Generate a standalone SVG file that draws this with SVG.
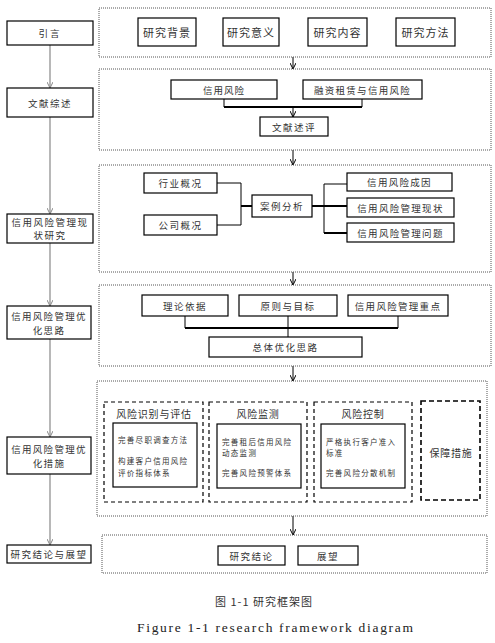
<svg xmlns="http://www.w3.org/2000/svg" width="495" height="643" viewBox="0 0 495 643">
<style>
.bg{fill:#fff}
.box{fill:#fff;stroke:#000;stroke-width:1.2}
.outer{fill:none;stroke:#555;stroke-width:1;stroke-dasharray:1 1}
.dash{fill:none;stroke:#000;stroke-width:1.2;stroke-dasharray:4 3}
.dash2{fill:none;stroke:#000;stroke-width:1.6;stroke-dasharray:5 3}
.t{font-family:"Noto Sans CJK SC","Noto Sans",sans-serif;fill:#333;text-anchor:middle;dominant-baseline:central}
.l{font-family:"Noto Sans CJK SC","Noto Sans",sans-serif;fill:#333;font-size:7.5px;letter-spacing:1.3px}
.s{fill:none;stroke:#888;stroke-width:1.2}
.c{fill:none;stroke:#000;stroke-width:1}
.k{fill:none;stroke:#000;stroke-width:2}
</style>
<defs>
<marker id="ag" viewBox="0 0 6 6" refX="6" refY="3" markerWidth="6" markerHeight="6" markerUnits="userSpaceOnUse" orient="auto">
<path d="M0,0 L6,3 L0,6" fill="none" stroke="#888" stroke-width="1"/>
</marker>
<marker id="ab" viewBox="0 0 6 6" refX="6" refY="3" markerWidth="6" markerHeight="6" markerUnits="userSpaceOnUse" orient="auto">
<path d="M0,0 L6,3 L0,6" fill="none" stroke="#000" stroke-width="1"/>
</marker>
</defs>
<rect class="bg" x="0" y="0" width="495" height="643"/>

<g id="connectors">
<path class="s" d="M50,45 V88" marker-end="url(#ag)"/>
<path class="s" d="M50,117 V214" marker-end="url(#ag)"/>
<path class="s" d="M50,243 V306" marker-end="url(#ag)"/>
<path class="s" d="M50,339 V437" marker-end="url(#ag)"/>
<path class="s" d="M50,474 V545" marker-end="url(#ag)"/>
<path class="c" d="M293,57 V69" marker-end="url(#ab)"/>
<path class="c" d="M293,150 V165" marker-end="url(#ab)"/>
<path class="c" d="M293,272 V285" marker-end="url(#ab)"/>
<path class="c" d="M293,366 V381" marker-end="url(#ab)"/>
<path class="c" d="M293,516 V535" marker-end="url(#ab)"/>
<path class="c" d="M224,99 V107 M362,99 V107"/>
<path class="k" d="M224,107 H362"/>
<path class="c" d="M293,107 V117" marker-end="url(#ab)"/>
<path class="c" d="M217,183 H241 V225 H217"/>
<path class="k" d="M241,206 H252"/>
<path class="k" d="M312,206 H347"/>
<path class="c" d="M347,184 H324 V233"/>
<path class="k" d="M324,233 H347"/>
<path class="c" d="M185,316 V328 M398,316 V328 M288,316 V337"/>
<path class="k" d="M185,328 H398"/>
</g>

<g id="n-intro"><rect class="box" x="7" y="21" width="86" height="24"/><text class="t" x="50" y="33" font-size="9.5" letter-spacing="2">引言</text></g>
<g id="n-lit"><rect class="box" x="7" y="88" width="86" height="29"/><text class="t" x="50" y="102.5" font-size="9.5" letter-spacing="1.5">文献综述</text></g>
<g id="n-status"><rect class="box" x="7" y="214" width="86" height="29"/><text class="t" x="50" y="222" font-size="9.5" letter-spacing="1.5">信用风险管理现</text><text class="t" x="50" y="235" font-size="9.5" letter-spacing="1.5">状研究</text></g>
<g id="n-idea"><rect class="box" x="7" y="306" width="84" height="33"/><text class="t" x="49" y="316" font-size="9.5" letter-spacing="1.3">信用风险管理优</text><text class="t" x="49" y="330" font-size="9.5" letter-spacing="1.3">化思路</text></g>
<g id="n-measure"><rect class="box" x="7" y="437" width="84" height="37"/><text class="t" x="49" y="449" font-size="9.5" letter-spacing="1.3">信用风险管理优</text><text class="t" x="49" y="463" font-size="9.5" letter-spacing="1.3">化措施</text></g>
<g id="n-concl"><rect class="box" x="7" y="545" width="84" height="18"/><text class="t" x="49" y="554" font-size="9.5" letter-spacing="1.5">研究结论与展望</text></g>

<g id="g1">
<rect class="outer" x="99" y="8" width="392" height="49"/>
<rect class="box" x="138" y="18" width="58" height="28"/><text class="t" x="167" y="32" font-size="11" letter-spacing="1">研究背景</text>
<rect class="box" x="223" y="18" width="56" height="28"/><text class="t" x="251" y="32" font-size="11" letter-spacing="1">研究意义</text>
<rect class="box" x="308" y="18" width="59" height="28"/><text class="t" x="337.5" y="32" font-size="11" letter-spacing="1">研究内容</text>
<rect class="box" x="396" y="18" width="59" height="28"/><text class="t" x="425.5" y="32" font-size="11" letter-spacing="1">研究方法</text>
</g>

<g id="g2">
<rect class="outer" x="99" y="69" width="392" height="81"/>
<rect class="box" x="171" y="80" width="106" height="19"/><text class="t" x="224" y="89.5" font-size="9.5" letter-spacing="1">信用风险</text>
<rect class="box" x="303" y="80" width="119" height="19"/><text class="t" x="362.5" y="89.5" font-size="9.5" letter-spacing="1.3">融资租赁与信用风险</text>
<rect class="box" x="260" y="117" width="68" height="19"/><text class="t" x="294" y="126.5" font-size="9.5" letter-spacing="1.5">文献述评</text>
</g>

<g id="g3">
<rect class="outer" x="99" y="165" width="392" height="107"/>
<rect class="box" x="144" y="173" width="73" height="20"/><text class="t" x="180.5" y="183" font-size="9.5" letter-spacing="1.5">行业概况</text>
<rect class="box" x="144" y="215" width="73" height="20"/><text class="t" x="180.5" y="225" font-size="9.5" letter-spacing="1.5">公司概况</text>
<rect class="box" x="252" y="195" width="60" height="22"/><text class="t" x="282" y="206" font-size="9.5" letter-spacing="1.5">案例分析</text>
<rect class="box" x="347" y="173" width="105" height="18"/><text class="t" x="399.5" y="182" font-size="9.5" letter-spacing="1.3">信用风险成因</text>
<rect class="box" x="347" y="198" width="107" height="19"/><text class="t" x="400.5" y="207.5" font-size="9.5" letter-spacing="1.3">信用风险管理现状</text>
<rect class="box" x="347" y="223" width="107" height="19"/><text class="t" x="400.5" y="232.5" font-size="9.5" letter-spacing="1.3">信用风险管理问题</text>
</g>

<g id="g4">
<rect class="outer" x="99" y="285" width="392" height="81"/>
<rect class="box" x="142" y="295" width="86" height="21"/><text class="t" x="185" y="305.5" font-size="9.5" letter-spacing="1.5">理论依据</text>
<rect class="box" x="239" y="295" width="98" height="21"/><text class="t" x="288" y="305.5" font-size="9.5" letter-spacing="1.5">原则与目标</text>
<rect class="box" x="348" y="295" width="100" height="21"/><text class="t" x="398" y="305.5" font-size="9.5" letter-spacing="1.3">信用风险管理重点</text>
<rect class="box" x="209" y="337" width="153" height="20"/><text class="t" x="285.5" y="347" font-size="9.5" letter-spacing="1.5">总体优化思路</text>
</g>

<g id="g5">
<rect class="outer" x="97" y="381" width="390" height="135"/>
<rect class="dash" x="104" y="402" width="99" height="100"/>
<text class="t" x="154" y="413" font-size="10" letter-spacing="0.8">风险识别与评估</text>
<rect class="box" x="113" y="423" width="84" height="64"/>
<text class="l" x="118" y="443">完善尽职调查方法</text>
<text class="l" x="118" y="464">构建客户信用风险</text>
<text class="l" x="118" y="476">评价指标体系</text>
<rect class="dash" x="209" y="402" width="98" height="100"/>
<text class="t" x="258" y="413" font-size="10" letter-spacing="0.8">风险监测</text>
<rect class="box" x="217" y="424" width="84" height="64"/>
<text class="l" x="222" y="445">完善租后信用风险</text>
<text class="l" x="222" y="456">动态监测</text>
<text class="l" x="222" y="476">完善风险预警体系</text>
<rect class="dash" x="314" y="402" width="98" height="100"/>
<text class="t" x="363" y="413" font-size="10" letter-spacing="0.8">风险控制</text>
<rect class="box" x="321" y="424" width="84" height="64"/>
<text class="l" x="326" y="445">严格执行客户准入</text>
<text class="l" x="326" y="456">标准</text>
<text class="l" x="326" y="476">完善风险分散机制</text>
<rect class="dash2" x="421" y="401" width="59" height="99"/>
<text class="t" x="451" y="452" font-size="10" letter-spacing="0.8">保障措施</text>
</g>

<g id="g6">
<rect class="outer" x="102" y="535" width="385" height="38"/>
<rect class="box" x="218" y="546" width="67" height="19"/><text class="t" x="251.5" y="555.5" font-size="9.5" letter-spacing="1.5">研究结论</text>
<rect class="box" x="298" y="546" width="60" height="19"/><text class="t" x="328" y="555.5" font-size="9.5" letter-spacing="1.5">展望</text>
</g>

<g id="caption">
<text class="t" x="264" y="601" font-size="11" letter-spacing="1">图 1-1  研究框架图</text>
<text x="137" y="632" font-family="Liberation Serif,serif" font-size="13.5" fill="#222" textLength="276" lengthAdjust="spacing">Figure 1-1 research framework diagram</text>
</g>
</svg>
